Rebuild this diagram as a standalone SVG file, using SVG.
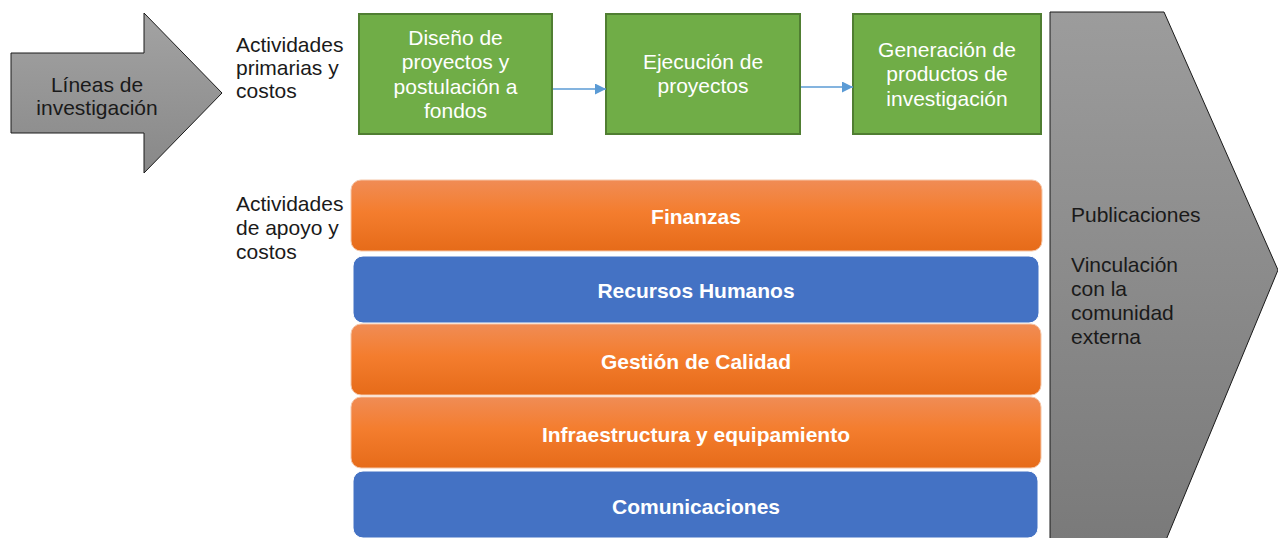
<svg xmlns="http://www.w3.org/2000/svg" width="1278" height="538" viewBox="0 0 1278 538">
<defs>
<linearGradient id="gray" x1="0" y1="0" x2="0" y2="1">
<stop offset="0" stop-color="#a3a3a3"/><stop offset="1" stop-color="#888888"/>
</linearGradient>
<linearGradient id="gray2" x1="0" y1="0" x2="0" y2="1">
<stop offset="0" stop-color="#9c9c9c"/><stop offset="1" stop-color="#7a7a7a"/>
</linearGradient>
<linearGradient id="orange" x1="0" y1="0" x2="0" y2="1">
<stop offset="0" stop-color="#f08c55"/><stop offset="0.45" stop-color="#f47d2e"/><stop offset="1" stop-color="#e66b19"/>
</linearGradient>
<marker id="ah" viewBox="0 0 10 10" refX="10" refY="5" markerWidth="11" markerHeight="11" markerUnits="userSpaceOnUse" orient="auto">
<path d="M0,0 L10,5 L0,10 z" fill="#5b9bd5"/>
</marker>
</defs>
<style>
text{font-family:"Liberation Sans",Arial,sans-serif;font-size:21px}
.dark{fill:#1a1a1a}
.wh{fill:#ffffff}
.green{fill:#70ad47;stroke:#507e32;stroke-width:2}
.bar{fill:url(#orange);stroke:#f5c6a8;stroke-width:1}
.blue{fill:#4472c4;stroke:#ffffff;stroke-width:1}
.bt{fill:#ffffff;font-weight:bold;font-size:21px}
.conn{stroke:#5b9bd5;stroke-width:1.5;fill:none}
</style>
<g id="lineas">
<polygon points="11,53 144,53 144,13 222,93 144,173 144,133 11,133" fill="url(#gray)" stroke="#1a1a1a" stroke-width="1"/>
<text class="dark" x="97" y="92" text-anchor="middle">Líneas de</text>
<text class="dark" x="97" y="115" text-anchor="middle">investigación</text>
</g>
<g id="label-primarias">
<text class="dark" x="236" y="52">Actividades</text>
<text class="dark" x="236" y="75">primarias y</text>
<text class="dark" x="236" y="98">costos</text>
</g>
<g id="label-apoyo">
<text class="dark" x="236" y="211">Actividades</text>
<text class="dark" x="236" y="235">de apoyo y</text>
<text class="dark" x="236" y="259">costos</text>
</g>
<g id="diseno">
<rect class="green" x="359" y="14" width="193" height="120"/>
<text class="wh" x="455.5" y="45" text-anchor="middle">Diseño de</text>
<text class="wh" x="455.5" y="69" text-anchor="middle">proyectos y</text>
<text class="wh" x="455.5" y="94" text-anchor="middle">postulación a</text>
<text class="wh" x="455.5" y="118" text-anchor="middle">fondos</text>
</g>
<g id="ejecucion">
<rect class="green" x="606" y="14" width="194" height="120"/>
<text class="wh" x="703" y="69" text-anchor="middle">Ejecución de</text>
<text class="wh" x="703" y="93" text-anchor="middle">proyectos</text>
</g>
<g id="generacion">
<rect class="green" x="853" y="14" width="188" height="120"/>
<text class="wh" x="947" y="57" text-anchor="middle">Generación de</text>
<text class="wh" x="947" y="81" text-anchor="middle">productos de</text>
<text class="wh" x="947" y="106" text-anchor="middle">investigación</text>
</g>
<g id="connectors">
<line class="conn" x1="553" y1="89" x2="606" y2="89" marker-end="url(#ah)"/>
<line class="conn" x1="801" y1="87" x2="853" y2="87" marker-end="url(#ah)"/>
</g>
<g id="finanzas">
<rect class="bar" x="351" y="180" width="691" height="71" rx="10"/>
<text class="bt" x="696" y="224" text-anchor="middle">Finanzas</text>
</g>
<g id="rrhh">
<rect class="blue" x="353" y="256" width="686" height="67" rx="10"/>
<text class="bt" x="696" y="298" text-anchor="middle">Recursos Humanos</text>
</g>
<g id="calidad">
<rect class="bar" x="351" y="324" width="690" height="71" rx="10"/>
<text class="bt" x="696" y="369" text-anchor="middle">Gestión de Calidad</text>
</g>
<g id="infra">
<rect class="bar" x="351" y="397" width="690" height="71" rx="10"/>
<text class="bt" x="696" y="442" text-anchor="middle">Infraestructura y equipamiento</text>
</g>
<g id="comunicaciones">
<rect class="blue" x="353" y="471" width="685" height="67" rx="10"/>
<text class="bt" x="696" y="514" text-anchor="middle">Comunicaciones</text>
</g>
<g id="resultados">
<polygon points="1050,12 1164,12 1278,270 1166,540 1050,540" fill="url(#gray2)" stroke="#1a1a1a" stroke-width="1"/>
<text class="dark" x="1071" y="222">Publicaciones</text>
<text class="dark" x="1071" y="272">Vinculación</text>
<text class="dark" x="1071" y="296">con la</text>
<text class="dark" x="1071" y="320">comunidad</text>
<text class="dark" x="1071" y="344">externa</text>
</g>
</svg>
